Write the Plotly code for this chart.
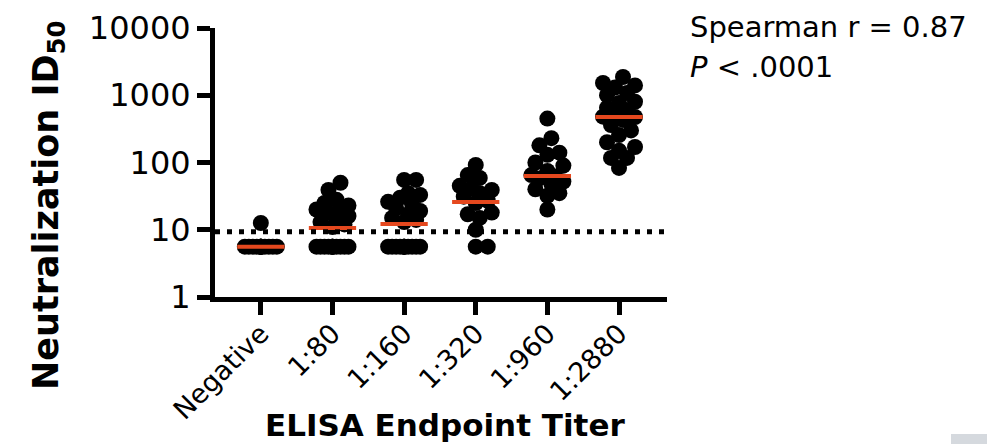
import math
import plotly.graph_objects as go

# ---------------- data ----------------
categories = ["Negative", "1:80", "1:160", "1:320", "1:960", "1:2880"]

neg_vals = [12.6] + [5.6] * 14
t80_vals = [50, 39, 28, 25, 23, 21, 20, 18, 16, 14, 13, 12, 11] + [5.6] * 12
t160_vals = [55, 55, 35, 33, 30, 26, 24, 21, 19, 17, 15, 14, 13] + [5.6] * 12
t320_vals = [92, 65, 59, 45, 41, 39, 35, 31, 27, 25, 18, 17, 15, 10, 5.6, 5.6]
t960_vals = [450, 230, 180, 140, 130, 100, 90, 75, 65, 62, 58, 52, 48, 40, 35, 32, 20]
t2880_vals = [1870, 1520, 1400, 1300, 1080, 1000, 800, 770, 650, 600, 545, 480,
              475, 430, 360, 300, 256, 200, 170, 150, 117, 117, 83]

medians = [5.6, 10.6, 12.2, 25.9, 63, 475]
detection_limit = 9.3

y_tick_vals = [1, 10, 100, 1000, 10000]
y_tick_text = ["1", "10", "100", "1000", "10000"]

groups = [neg_vals, t80_vals, t160_vals, t320_vals, t960_vals, t2880_vals]

# ---------------- layout geometry ----------------
W, H = 987, 444
L, R, T, B = 215, 320, 28, 147
plot_w = W - L - R
plot_h = H - T - B
x_range = [-0.64, 5.67]
px_per_cat = plot_w / (x_range[1] - x_range[0])
px_per_dec = plot_h / 4.0

FONT = "DejaVu Sans"
ORANGE = "#E5481E"


def swarm(values, idx):
    """Simple deterministic beeswarm spread in pixel space."""
    placed = []
    steps = [0]
    for k in range(1, 5):
        steps += [4 * k, -4 * k]
    mind = 12.0
    order = sorted(range(len(values)), key=lambda i: values[i])
    out = [0.0] * len(values)
    for i in order:
        yp = math.log10(values[i]) * px_per_dec
        best, best_d = 0, -1
        chosen = None
        for s in steps:
            d = min([math.hypot(s - px, yp - py) for px, py in placed] or [1e9])
            if d >= mind:
                chosen = s
                break
            if d > best_d:
                best, best_d = s, d
        if chosen is None:
            chosen = best
        placed.append((chosen, yp))
        out[i] = idx + chosen / px_per_cat
    return out


fig = go.Figure()

for i, vals in enumerate(groups):
    fig.add_trace(go.Scatter(
        x=swarm(vals, i), y=vals, mode="markers",
        marker=dict(color="black", size=16, line=dict(width=0)),
        showlegend=False, hoverinfo="y"))

# median bars
mx, my = [], []
for i, m in enumerate(medians):
    mx += [i - 0.33, i + 0.33, None]
    my += [m, m, None]
fig.add_trace(go.Scatter(x=mx, y=my, mode="lines",
                         line=dict(color=ORANGE, width=4),
                         showlegend=False, hoverinfo="skip"))

# limit of detection dotted line
fig.add_shape(type="line", xref="paper", x0=0, x1=1, yref="y",
              y0=detection_limit, y1=detection_limit,
              line=dict(color="black", width=5, dash="5px,7px"))

fig.update_layout(
    width=W, height=H,
    margin=dict(l=L, r=R, t=T, b=B, autoexpand=False),
    paper_bgcolor="white", plot_bgcolor="white",
    font=dict(family=FONT, color="black"),
    xaxis=dict(range=x_range, tickmode="array", automargin=False,
               tickvals=list(range(len(categories))), ticktext=categories,
               tickangle=-45, showgrid=False, zeroline=False,
               showline=True, linecolor="black", linewidth=5,
               ticks="outside", ticklen=13, tickwidth=5, tickcolor="black",
               ticklabelstandoff=-8,
               tickfont=dict(size=27, family=FONT)),
    yaxis=dict(type="log", range=[0, 4], tickmode="array", automargin=False,
               tickvals=y_tick_vals, ticktext=y_tick_text,
               showgrid=False, zeroline=False,
               showline=True, linecolor="black", linewidth=5,
               ticks="outside", ticklen=13, tickwidth=5, tickcolor="black",
               tickfont=dict(size=32, family=FONT)),
)

def px_to_paper_x(px):
    return (px - L) / plot_w

def px_to_paper_y(py):
    return (H - B - py) / plot_h

fig.add_annotation(text="<b>Neutralization ID<sub>50</sub></b>",
                   xref="paper", yref="paper",
                   x=px_to_paper_x(48), y=px_to_paper_y(205),
                   xanchor="center", yanchor="middle", textangle=-90,
                   showarrow=False, font=dict(size=35, family=FONT))
fig.add_annotation(text="<b>ELISA Endpoint Titer</b>",
                   xref="paper", yref="paper",
                   x=px_to_paper_x(445), y=px_to_paper_y(425),
                   xanchor="center", yanchor="middle",
                   showarrow=False, font=dict(size=31, family=FONT))
fig.add_annotation(text="Spearman r = 0.87",
                   xref="paper", yref="paper",
                   x=px_to_paper_x(688), y=px_to_paper_y(27),
                   xanchor="left", yanchor="middle",
                   showarrow=False, font=dict(size=29, family=FONT))
fig.add_annotation(text="<i>P</i> < .0001",
                   xref="paper", yref="paper",
                   x=px_to_paper_x(688), y=px_to_paper_y(67),
                   xanchor="left", yanchor="middle",
                   showarrow=False, font=dict(size=29, family=FONT))

# light grey corner block
fig.add_shape(type="rect", xref="paper", yref="paper",
              x0=px_to_paper_x(951), x1=px_to_paper_x(990),
              y0=px_to_paper_y(446), y1=px_to_paper_y(434),
              line=dict(width=0), fillcolor="#D5D9DE", layer="below")

fig.write_html("out.html",
               config={"displayModeBar": False},
               post_script="document.body.style.margin='0';"
                           "document.body.style.overflow='hidden';")
